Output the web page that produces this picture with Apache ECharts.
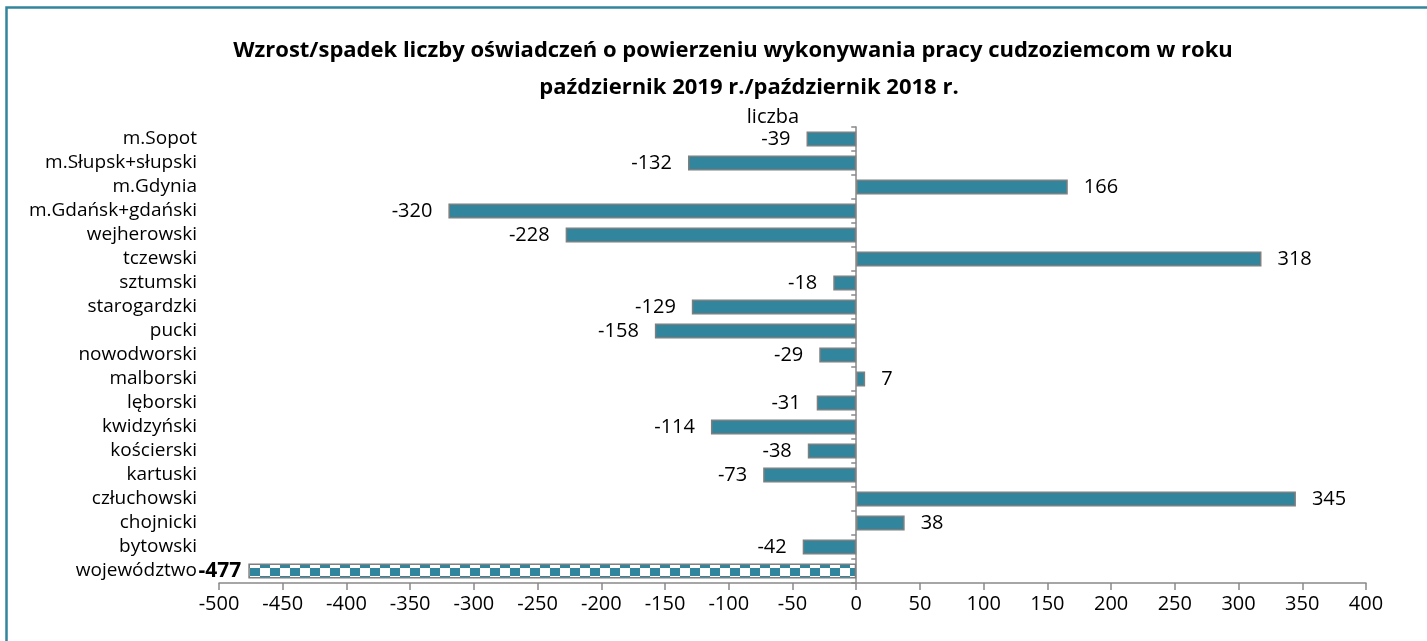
<!DOCTYPE html>
<html lang="pl">
<head>
    <meta charset="utf-8">
    <title>Wzrost/spadek liczby oświadczeń</title>
    <script src="https://cdn.jsdelivr.net/npm/echarts@6.0.0/dist/echarts.min.js"></script>
    <style>
    * { margin: 0; padding: 0; }
    #chart-container { width: 1427px; height: 641px; overflow: hidden; background: #fff; }
    </style>
</head>
<body>
    <div id="chart-container"></div>
    <script>
      // data, top to bottom
      var powiaty = ['m.Sopot', 'm.Słupsk+słupski', 'm.Gdynia', 'm.Gdańsk+gdański', 'wejherowski',
          'tczewski', 'sztumski', 'starogardzki', 'pucki', 'nowodworski', 'malborski', 'lęborski',
          'kwidzyński', 'kościerski', 'kartuski', 'człuchowski', 'chojnicki', 'bytowski', 'województwo'];
      var zmiana = [-39, -132, 166, -320, -228, 318, -18, -129, -158, -29, 7, -31, -114, -38, -73, 345, 38, -42, -477];
      var xTicks = { min: -500, max: 400, step: 50 };

      var teal = '#31859C';
      var font = '"Open Sans", "Noto Sans", sans-serif';

      // checker pattern for the województwo bar
      function checker() {
          var c = document.createElement('canvas');
          c.width = 20; c.height = 16;
          var g = c.getContext('2d');
          g.fillStyle = '#fff';
          g.fillRect(0, 0, 20, 16);
          g.fillStyle = teal;
          g.fillRect(0, 0, 10, 8);
          g.fillRect(10, 8, 10, 8);
          return c;
      }

      var seriesData = zmiana.map(function (v, i) {
          var total = powiaty[i] === 'województwo';
          var item = {
              value: v,
              label: {
                  position: v < 0 ? 'left' : 'right',
                  distance: total ? 7 : 16
              }
          };
          if (total) {
              item.label.fontWeight = 'bold';
              item.label.fontSize = 21;
              item.itemStyle = { color: { image: checker(), repeat: 'repeat' } };
          }
          return item;
      });

      var myChart = echarts.init(document.getElementById('chart-container'));
      myChart.setOption({
          animation: false,
          textStyle: { fontFamily: font },
          graphic: [{
              type: 'rect',
              shape: { x: 6.5, y: 7.5, width: 1500, height: 700 },
              style: { fill: 'none', stroke: teal, lineWidth: 2.5 },
              silent: true
          }],
          title: [{
              text: 'Wzrost/spadek liczby oświadczeń o powierzeniu wykonywania pracy cudzoziemcom w roku',
              left: 728, top: 35, textAlign: 'center',
              textStyle: { fontSize: 22, fontWeight: 'bold', color: '#000', fontFamily: font }
          }, {
              text: 'październik 2019 r./październik 2018 r.',
              left: 744, top: 72, textAlign: 'center',
              textStyle: { fontSize: 22, fontWeight: 'bold', color: '#000', fontFamily: font }
          }, {
              text: 'liczba',
              left: 768, top: 102, textAlign: 'center',
              textStyle: { fontSize: 20, fontWeight: 'normal', color: '#000', fontFamily: font }
          }],
          grid: { left: 219, right: 61, top: 127, bottom: 58, containLabel: false },
          xAxis: {
              type: 'value',
              min: xTicks.min, max: xTicks.max, interval: xTicks.step,
              splitLine: { show: false },
              axisLine: { show: true, lineStyle: { color: '#898989', width: 1.5 } },
              axisTick: { show: true, length: 7, lineStyle: { color: '#898989', width: 1.5 } },
              axisLabel: { color: '#000', fontSize: 20, margin: 11, fontFamily: font }
          },
          yAxis: [{
              type: 'category', data: powiaty, inverse: true,
              axisLine: { show: false, onZero: false },
              axisTick: { show: false },
              axisLabel: { color: '#000', fontSize: 19, margin: 22, interval: 0, fontFamily: font }
          }, {
              type: 'category', data: powiaty, inverse: true, position: 'left',
              axisLine: { show: true, onZero: true, lineStyle: { color: '#898989', width: 1.5 } },
              axisTick: { show: true, length: 5, interval: 0, lineStyle: { color: '#898989', width: 1.5 } },
              axisLabel: { show: false }
          }],
          series: [{
              type: 'bar',
              yAxisIndex: 0,
              data: seriesData,
              barWidth: 15,
              itemStyle: { color: teal, borderColor: '#7f7f7f', borderWidth: 1.5 },
              label: { show: true, color: '#000', fontSize: 20, fontFamily: font }
          }]
      });
    </script>
</body>
</html>
